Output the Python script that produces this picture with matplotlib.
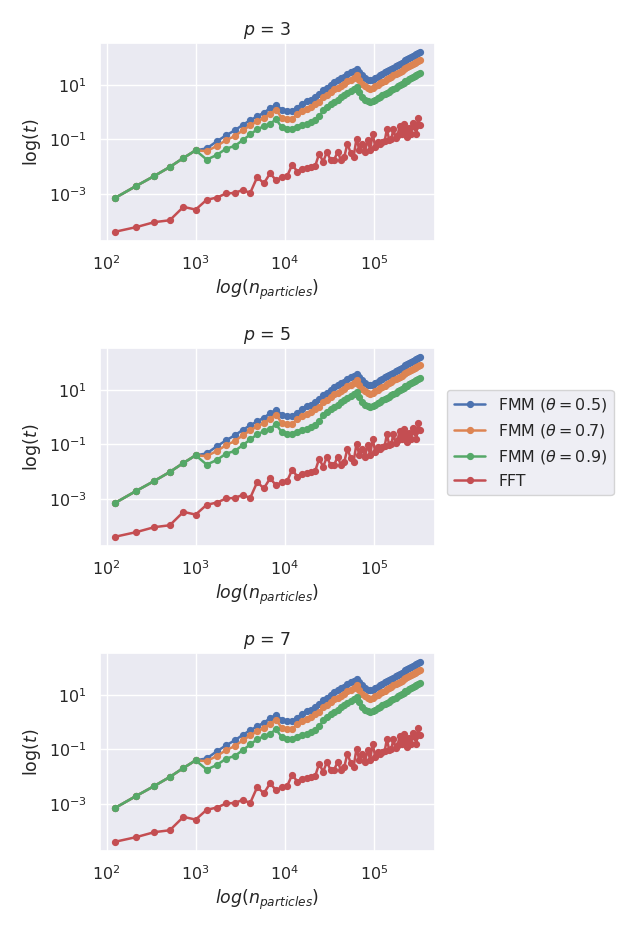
import matplotlib
matplotlib.use("Agg")
import matplotlib.pyplot as plt
import seaborn as sns
import numpy as np

# particles on a cubic grid (k^3, k = 5..69)
n_particles = [125, 216, 343, 512, 729, 1000, 1331, 1728, 2197, 2744,
               3375, 4096, 4913, 5832, 6859, 8000, 9261, 10648, 12167, 13824,
               15625, 17576, 19683, 21952, 24389, 27000, 29791, 32768, 35937, 39304,
               42875, 46656, 50653, 54872, 59319, 64000, 68921, 74088, 79507, 85184,
               91125, 97336, 103823, 110592, 117649, 125000, 132651, 140608, 148877, 157464,
               166375, 175616, 185193, 195112, 205379, 216000, 226981, 238328, 250047, 262144,
               274625, 287496, 300763, 314432, 328509]

# log10 of run time (s)
log_t_fmm_05 = [-3.14, -2.70, -2.34, -2.01, -1.68, -1.40,
                -1.33, -1.07, -0.85, -0.67, -0.47, -0.30, -0.16, -0.02, 0.14, 0.27,
                0.09, 0.03, 0.04, 0.16, 0.31, 0.39, 0.45, 0.55, 0.65, 0.82,
                0.89, 1.00, 1.10, 1.16, 1.23, 1.30, 1.38, 1.45, 1.51, 1.58,
                1.46, 1.34, 1.24, 1.18, 1.16, 1.19, 1.24, 1.30, 1.35, 1.40,
                1.45, 1.49, 1.54, 1.59, 1.63, 1.68, 1.72, 1.76, 1.81, 1.85,
                1.89, 1.93, 1.97, 2.01, 2.05, 2.08, 2.12, 2.16, 2.19]
log_t_fmm_07 = [-3.14, -2.70, -2.34, -2.01, -1.68, -1.40,
                -1.43, -1.24, -1.03, -0.88, -0.67, -0.49, -0.34, -0.22, -0.06, 0.09,
                -0.22, -0.26, -0.24, -0.08, 0.04, 0.12, 0.19, 0.28, 0.38, 0.55,
                0.62, 0.73, 0.83, 0.89, 0.96, 1.04, 1.12, 1.19, 1.26, 1.34,
                1.18, 1.04, 0.94, 0.88, 0.86, 0.89, 0.94, 1.00, 1.05, 1.10,
                1.15, 1.20, 1.24, 1.29, 1.34, 1.39, 1.43, 1.48, 1.52, 1.56,
                1.61, 1.64, 1.69, 1.72, 1.76, 1.80, 1.84, 1.88, 1.91]
log_t_fmm_09 = [-3.14, -2.70, -2.34, -2.01, -1.68, -1.40,
                -1.74, -1.57, -1.34, -1.24, -1.03, -0.82, -0.63, -0.52, -0.42, -0.27,
                -0.55, -0.62, -0.62, -0.53, -0.46, -0.42, -0.36, -0.28, -0.16, 0.06,
                0.18, 0.28, 0.37, 0.45, 0.55, 0.63, 0.71, 0.78, 0.84, 0.91,
                0.73, 0.55, 0.45, 0.39, 0.37, 0.40, 0.45, 0.51, 0.56, 0.61,
                0.66, 0.71, 0.75, 0.80, 0.85, 0.90, 0.94, 0.99, 1.03, 1.07,
                1.12, 1.15, 1.20, 1.23, 1.27, 1.31, 1.35, 1.38, 1.42]
log_t_fft = [-4.38, -4.21, -4.03, -3.96, -3.47, -3.57,
             -3.21, -3.13, -2.98, -2.96, -2.85, -2.96, -2.38, -2.61, -2.24, -2.50,
             -2.38, -2.34, -1.92, -2.18, -2.07, -2.03, -2.01, -1.98, -1.52, -1.82,
             -1.46, -1.76, -1.74, -1.46, -1.76, -1.64, -1.15, -1.49, -1.64, -0.97,
             -1.40, -1.15, -1.46, -1.03, -1.37, -0.79, -1.28, -1.09, -1.15, -1.09,
             -1.06, -0.61, -1.03, -0.97, -0.62, -0.95, -0.85, -0.50, -0.82, -0.42,
             -0.67, -0.90, -0.60, -0.80, -0.40, -0.55, -0.80, -0.21, -0.49]

p_values = [3, 5, 7]
series_labels = [r"FMM ($\theta = 0.5$)", r"FMM ($\theta = 0.7$)",
                 r"FMM ($\theta = 0.9$)", "FFT"]
series = [log_t_fmm_05, log_t_fmm_07, log_t_fmm_09, log_t_fft]

sns.set_theme(font_scale=1.04)

fig = plt.figure(figsize=(6.23, 9.34), dpi=100)
W, H = 623.0, 934.0
tops = [43.3, 348.3, 653.3]
ax_h = 197.4

axes = []
for i, p in enumerate(p_values):
    top = tops[i]
    ax = fig.add_axes([100 / W, 1 - (top + ax_h) / H, 335 / W, ax_h / H])
    for lab, vals in zip(series_labels, series):
        ax.plot(n_particles, 10 ** np.array(vals), marker="o", markersize=4.2,
                linewidth=1.8, label=lab)
    ax.set_xscale("log")
    ax.set_yscale("log")
    ax.set_xticks([1e2, 1e3, 1e4, 1e5])
    ax.set_yticks([1e-3, 1e-1, 1e1])
    ax.minorticks_off()
    ax.set_title(f"$p$ = {p}")
    ax.set_xlabel(r"$log(n_{particles})$")
    ax.set_ylabel(r"log($t$)")
    axes.append(ax)

axes[1].legend(loc="center left", bbox_to_anchor=(1.013, 0.523))

fig.savefig("out.png", dpi=100)
